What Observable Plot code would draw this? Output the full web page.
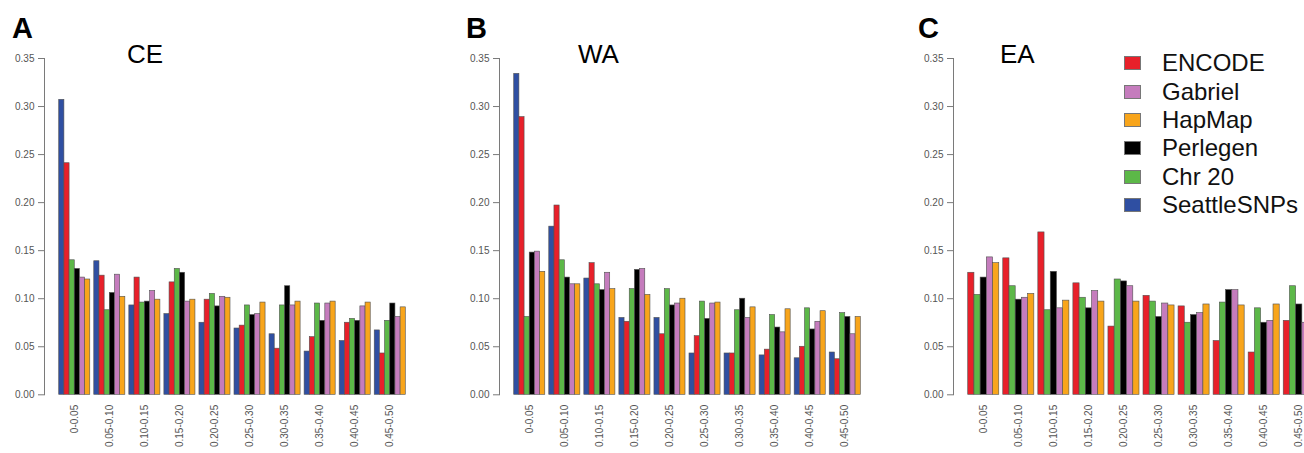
<!DOCTYPE html>
<html><head><meta charset="utf-8">
<script src="https://cdn.jsdelivr.net/npm/d3@7"></script>
<script src="https://cdn.jsdelivr.net/npm/@observablehq/plot@0.6"></script>
<style>
html,body{margin:0;padding:0;background:#fff;}
body{width:1304px;height:453px;overflow:hidden;position:relative;font-family:"Liberation Sans",Arial,Helvetica,sans-serif;}
.panel{position:absolute;top:0;width:440px;height:453px;}
.panel svg{max-width:none !important;}
.letter{position:absolute;font-weight:bold;font-size:29px;line-height:1;color:#000;}
.pop{position:absolute;font-size:26px;line-height:1;color:#000;}
#legend{position:absolute;left:1124px;top:49px;}
.row{display:flex;align-items:center;height:28.35px;white-space:nowrap;}
.sw{width:17px;height:14px;box-sizing:border-box;border:1px solid #777;margin-right:21px;flex:none;}
.lab{font-size:24px;line-height:1;color:#111;}
</style></head><body>
<script>
// ---- categories & labels ----
const bins = ["0-0.05","0.05-0.10","0.10-0.15","0.15-0.20","0.20-0.25","0.25-0.30","0.30-0.35","0.35-0.40","0.40-0.45","0.45-0.50"];
const yTicks = [0, 0.05, 0.10, 0.15, 0.20, 0.25, 0.30, 0.35];
const barOrder = ["SeattleSNPs","ENCODE","Chr 20","Perlegen","Gabriel","HapMap"];
const legendOrder = ["ENCODE","Gabriel","HapMap","Perlegen","Chr 20","SeattleSNPs"];
const seriesColors = {"SeattleSNPs":"#2f4fa2","ENCODE":"#e8202a","Chr 20":"#5cb848","Perlegen":"#000000","Gabriel":"#c57cbd","HapMap":"#f8a51b"};
const panelLetters = ["A","B","C"];
const panelPops = ["CE","WA","EA"];

// ---- CE ----
const ceSeattle  = [0.307,0.139,0.093,0.084,0.075,0.069,0.063,0.045,0.056,0.067];
const ceEncode   = [0.241,0.124,0.122,0.117,0.099,0.072,0.048,0.060,0.075,0.043];
const ceChr20    = [0.140,0.088,0.096,0.131,0.105,0.093,0.093,0.095,0.079,0.077];
const cePerlegen = [0.131,0.106,0.097,0.127,0.092,0.083,0.113,0.077,0.077,0.095];
const ceGabriel  = [0.122,0.125,0.108,0.097,0.102,0.084,0.093,0.095,0.092,0.081];
const ceHapmap   = [0.120,0.102,0.099,0.099,0.101,0.096,0.097,0.097,0.096,0.091];
// ---- WA ----
const waSeattle  = [0.334,0.175,0.121,0.080,0.080,0.043,0.043,0.041,0.038,0.044];
const waEncode   = [0.289,0.197,0.137,0.076,0.063,0.061,0.043,0.047,0.050,0.037];
const waChr20    = [0.081,0.140,0.115,0.110,0.110,0.097,0.088,0.083,0.090,0.085];
const waPerlegen = [0.148,0.122,0.109,0.130,0.093,0.079,0.100,0.070,0.068,0.081];
const waGabriel  = [0.149,0.115,0.127,0.131,0.095,0.095,0.080,0.065,0.076,0.063];
const waHapmap   = [0.128,0.115,0.110,0.104,0.100,0.096,0.091,0.089,0.087,0.081];
// ---- EA (no SeattleSNPs) ----
const eaEncode   = [0.127,0.142,0.169,0.116,0.071,0.103,0.092,0.056,0.044,0.077];
const eaChr20    = [0.104,0.113,0.088,0.101,0.120,0.097,0.075,0.096,0.090,0.113];
const eaPerlegen = [0.122,0.099,0.128,0.090,0.118,0.081,0.083,0.109,0.075,0.094];
const eaGabriel  = [0.143,0.101,0.090,0.108,0.113,0.095,0.085,0.109,0.077,0.075];
const eaHapmap   = [0.137,0.105,0.098,0.097,0.097,0.093,0.094,0.093,0.094,null];

const panelSeries = [
  {"SeattleSNPs":ceSeattle,"ENCODE":ceEncode,"Chr 20":ceChr20,"Perlegen":cePerlegen,"Gabriel":ceGabriel,"HapMap":ceHapmap},
  {"SeattleSNPs":waSeattle,"ENCODE":waEncode,"Chr 20":waChr20,"Perlegen":waPerlegen,"Gabriel":waGabriel,"HapMap":waHapmap},
  {"ENCODE":eaEncode,"Chr 20":eaChr20,"Perlegen":eaPerlegen,"Gabriel":eaGabriel,"HapMap":eaHapmap}
];

// ---- layout ----
const panelLeft = [0, 455.3, 909.3];
const letterLeft = [12, 466, 918];
const popLeft = [127, 578, 1000];

function makePanel(series) {
  const W = 440, H = 453, mL = 44, mR = 20, mT = 58, mB = 58.7;
  const xOpts = {type: "band", domain: bins, range: [mL, W - mR], paddingInner: 0.114, paddingOuter: 0.42, round: false};
  const bw = Plot.scale({x: xOpts}).bandwidth;
  const names = barOrder.filter(n => series[n]);
  const n = names.length;
  const barMarks = names.map((name, i) => {
    const rows = bins.map((b, j) => ({bin: b, value: series[name][j]})).filter(d => d.value != null);
    return Plot.barY(rows, {
      x: "bin", y: "value", fill: seriesColors[name], stroke: "#505050", strokeWidth: 0.6,
      insetLeft: i * bw / n, insetRight: (n - 1 - i) * bw / n
    });
  });
  const svg = Plot.plot({
    width: W, height: H, marginLeft: mL, marginRight: mR, marginTop: mT, marginBottom: mB,
    style: {fontFamily: "'Liberation Sans', Arial, sans-serif", background: "transparent", overflow: "visible", maxWidth: "none"},
    x: {...xOpts, axis: null},
    y: {domain: [0, 0.35], axis: null},
    marks: [
      ...barMarks,
      Plot.frame({anchor: "left", stroke: "#7a7a7a"}),
      Plot.axisY({ticks: yTicks, tickFormat: d3.format(".2f"), tickSize: 6, tickPadding: 4, stroke: "#7a7a7a", fill: "#555", fontSize: 10, label: null}),
      Plot.axisX({tickSize: 0, tickPadding: 10, tickRotate: -90, fill: "#555", fontSize: 10, label: null})
    ]
  });
  svg.style.maxWidth = "none";
  svg.style.width = W + "px";
  svg.style.height = H + "px";
  return svg;
}

panelSeries.forEach((s, k) => {
  const div = document.createElement("div");
  div.className = "panel";
  div.style.left = panelLeft[k] + "px";
  div.appendChild(makePanel(s));
  document.body.appendChild(div);
  const L = document.createElement("div");
  L.className = "letter"; L.textContent = panelLetters[k];
  L.style.left = letterLeft[k] + "px"; L.style.top = "13.5px";
  document.body.appendChild(L);
  const P = document.createElement("div");
  P.className = "pop"; P.textContent = panelPops[k];
  P.style.left = popLeft[k] + "px"; P.style.top = "40.5px";
  document.body.appendChild(P);
});

const leg = document.createElement("div");
leg.id = "legend";
legendOrder.forEach(name => {
  const r = document.createElement("div"); r.className = "row";
  const sw = document.createElement("div"); sw.className = "sw"; sw.style.background = seriesColors[name];
  const lb = document.createElement("div"); lb.className = "lab"; lb.textContent = name;
  r.appendChild(sw); r.appendChild(lb); leg.appendChild(r);
});
document.body.appendChild(leg);
</script>
</body></html>
